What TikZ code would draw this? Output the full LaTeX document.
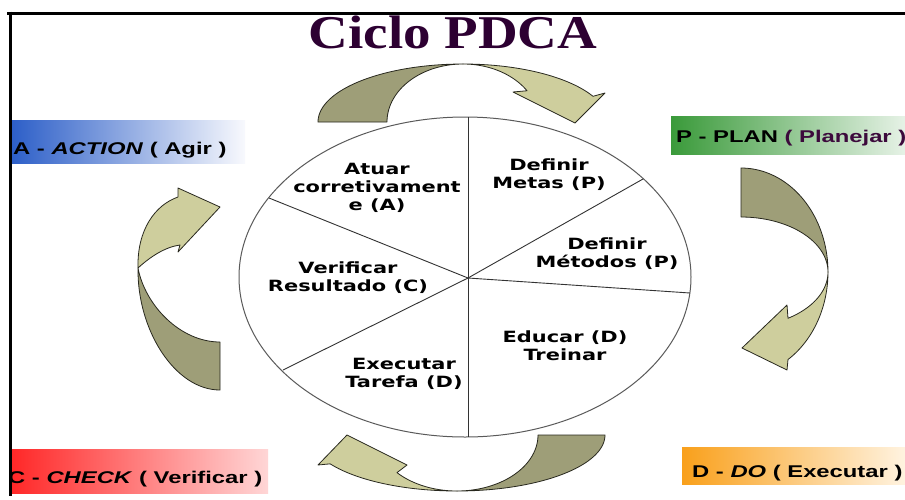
\documentclass[tikz,border=0pt]{standalone}
\usepackage{fontspec}
\setmainfont{Liberation Sans}
\newfontfamily\circfont[FakeStretch=1.35]{DejaVu Sans}
\newfontfamily\labfont[FakeStretch=1.4]{Liberation Sans}
\newfontfamily\titfont[FakeStretch=1.17]{Liberation Serif}
\definecolor{olivedark}{RGB}{158,158,120}
\definecolor{olivelight}{RGB}{206,206,157}
\definecolor{titlecol}{RGB}{45,0,50}
\definecolor{plancol}{RGB}{60,10,60}
\definecolor{edgecol}{RGB}{40,40,30}
\definecolor{rimcol}{RGB}{90,90,90}
\tikzset{
  arrowdark/.style={fill=olivedark,draw=edgecol,line width=0.8pt,line join=round},
  arrowlight/.style={fill=olivelight,draw=edgecol,line width=0.8pt,line join=round},
  cell/.style={font={\circfont\bfseries\fontsize{15.5}{18}\selectfont},align=center,text=black,inner sep=0pt},
  lab/.style={font={\labfont\bfseries\fontsize{17}{20}\selectfont},text=black,inner sep=0pt},
  titl/.style={font={\titfont\bfseries\fontsize{47}{50}\selectfont},inner sep=0pt},
  rim/.style={draw=rimcol,line width=1pt},
  spoke/.style={draw=black!80,line width=0.9pt},
  frameline/.style={draw=black,line width=3.6pt}
}
\begin{document}
\begin{tikzpicture}[x=1pt,y=-1pt]
\useasboundingbox (0,0) rectangle (905,499);
\fill[white] (0,0) rectangle (905,499);

% title
\node[titl,text=titlecol,anchor=base] (title) at (453,48.5) {Ciclo PDCA};

% label bars
\shade[left color={rgb,255:red,45;green,95;blue,200},right color={rgb,255:red,248;green,249;blue,253}] (12,120) rectangle (245,163);
\shade[left color={rgb,255:red,58;green,154;blue,58},right color={rgb,255:red,230;green,242;blue,230}] (671,116) rectangle (905,154);
\shade[left color={rgb,255:red,255;green,40;blue,40},right color={rgb,255:red,255;green,214;blue,214}] (12,449) rectangle (268,493);
\shade[left color={rgb,255:red,249;green,160;blue,27},right color={rgb,255:red,255;green,243;blue,224}] (682,447) rectangle (905,484);

\node[lab,anchor=base west] (labA) at (13,154) {A - \textit{ACTION} ( Agir )};
\node[lab,anchor=base west] (labP) at (676,142.5) {P - PLAN \textcolor{plancol}{( Planejar )}};
\node[lab,anchor=base west] (labC) at (8,483) {C - \textit{CHECK} ( Verificar )};
\node[lab,anchor=base west] (labD) at (692,477) {D - \textit{DO} ( Executar )};

% top arrow
\filldraw[arrowdark] plot[domain=180:90,variable=\t,samples=40] ({463+145*cos(\t)},{122-58*sin(\t)})
  -- plot[domain=90:180,variable=\t,samples=40] ({463+76*cos(\t)},{122-58*sin(\t)}) -- cycle;
\filldraw[arrowlight] plot[domain=90:26.3,variable=\t,samples=40] ({463+145*cos(\t)},{122-58*sin(\t)})
  -- (605,93) -- (575,123) -- (513,92)
  -- plot[domain=32.6:90,variable=\t,samples=40] ({463+76*cos(\t)},{122-58*sin(\t)}) -- cycle;

% right arrow
\filldraw[arrowdark] plot[domain=90:0,variable=\t,samples=40] ({741+87*cos(\t)},{272-104*sin(\t)})
  -- plot[domain=0:90,variable=\t,samples=40] ({741+87*cos(\t)},{272-55*sin(\t)}) -- cycle;
\filldraw[arrowlight] plot[domain=0:-57.3,variable=\t,samples=40] ({741+87*cos(\t)},{272-104*sin(\t)})
  -- (787,370) -- (742,348) -- (787,305)
  -- plot[domain=-57.3:0,variable=\t,samples=40] ({741+87*cos(\t)},{272-55*sin(\t)}) -- cycle;

% bottom arrow
\filldraw[arrowdark] plot[domain=0:90,variable=\t,samples=40] ({457+148*cos(\t)},{435+56*sin(\t)})
  -- plot[domain=90:0,variable=\t,samples=40] ({457+81*cos(\t)},{435+56*sin(\t)}) -- cycle;
\filldraw[arrowlight] plot[domain=90:149,variable=\t,samples=40] ({457+148*cos(\t)},{435+56*sin(\t)})
  -- (318,465) -- (347,435) -- (407,465)
  -- plot[domain=137.8:90,variable=\t,samples=40] ({457+81*cos(\t)},{435+56*sin(\t)}) -- cycle;

% left arrow
\filldraw[arrowdark] (220,390) .. controls (175,390) and (137,330) .. (138,268)
  .. controls (145,305) and (180,342) .. (220,342) -- cycle;
\filldraw[arrowlight] (138,268) .. controls (137,230) and (155,205) .. (178,197)
  -- (178,188) -- (220,207) -- (178,252) -- (180,245)
  .. controls (165,247) and (150,257) .. (138,268) -- cycle;

% circle
\draw[rim] (465,277) ellipse [x radius=226pt, y radius=160pt];
\coordinate (c) at (468,278);
\coordinate (s1) at (468,117);
\coordinate (s2) at (643,179);
\coordinate (s3) at (690,293);
\coordinate (s4) at (468,437);
\coordinate (s5) at (283,370);
\coordinate (s6) at (269,198);
\foreach \s in {s1,s2,s3,s4,s5,s6} \draw[spoke] (c) -- (\s);

\node[cell] (atuar) at (377,188) {Atuar\\corretivament\\e (A)};
\node[cell] (metas) at (549,174.5) {Definir\\Metas (P)};
\node[cell] (metodos) at (607,254) {Definir\\Métodos (P)};
\node[cell] (verif) at (348,278) {Verificar\\Resultado (C)};
\node[cell] (educ) at (565,346) {Educar (D)\\Treinar};
\node[cell] (exec) at (404,374) {Executar\\Tarefa (D)};

% frame
\draw[frameline] (7,13.5) -- (905,13.5);
\draw[frameline] (10.5,11.7) -- (10.5,496);
\end{tikzpicture}
\end{document}
